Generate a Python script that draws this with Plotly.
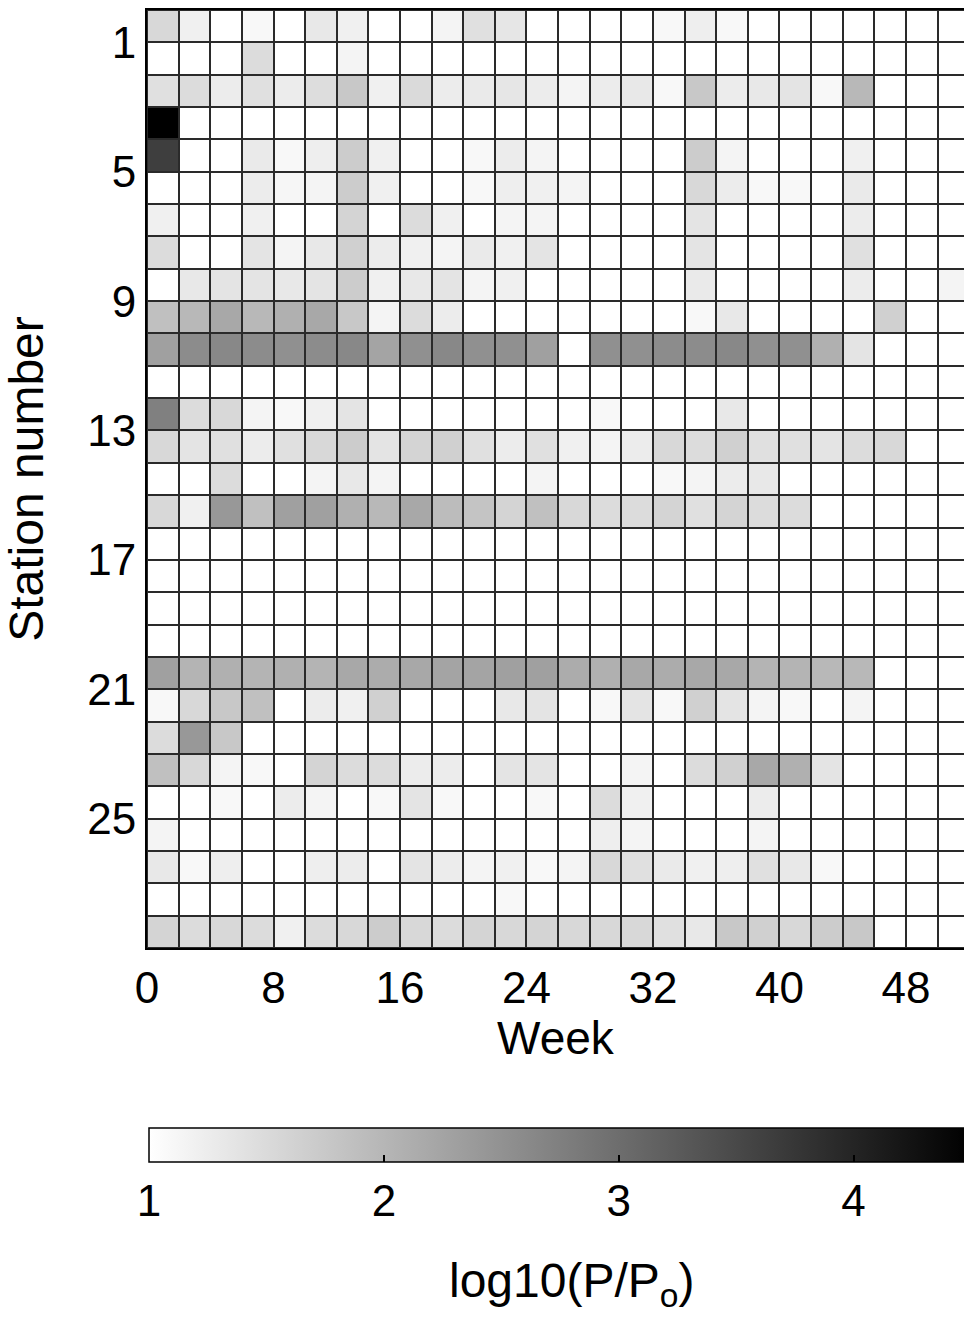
import plotly.graph_objects as go

# Week bin edges (each cell spans two weeks)
week_edges = [0, 2, 4, 6, 8, 10, 12, 14, 16, 18, 20, 22, 24, 26, 28, 30, 32, 34, 36,
              38, 40, 42, 44, 46, 48, 50, 52]
# Station row edges (station k occupies [k-1, k])
station_edges = [0, 1, 2, 3, 4, 5, 6, 7, 8, 9, 10, 11, 12, 13, 14, 15, 16, 17, 18, 19,
                 20, 21, 22, 23, 24, 25, 26, 27, 28, 29]

x_ticks = [0, 8, 16, 24, 32, 40, 48]
y_ticks = [1, 5, 9, 13, 17, 21, 25]
cbar_ticks = [1, 2, 3, 4]

# log10(P/Po) per station (rows) and two-week bin (columns)
s01 = [1.54, 1.21, 1.0, 1.10, 1.0, 1.32, 1.21, 1.0, 1.0, 1.15, 1.43, 1.35, 1.0, 1.0, 1.0, 1.0, 1.10, 1.23, 1.10, 1.0, 1.0, 1.0, 1.0, 1.0, 1.0, 1.0]
s02 = [1.0, 1.0, 1.0, 1.48, 1.0, 1.0, 1.15, 1.0, 1.0, 1.0, 1.0, 1.0, 1.0, 1.0, 1.0, 1.0, 1.0, 1.0, 1.0, 1.0, 1.0, 1.0, 1.0, 1.0, 1.0, 1.0]
s03 = [1.43, 1.48, 1.26, 1.43, 1.26, 1.46, 1.75, 1.21, 1.51, 1.26, 1.29, 1.35, 1.26, 1.15, 1.26, 1.32, 1.10, 1.75, 1.26, 1.32, 1.37, 1.10, 1.97, 1.0, 1.0, 1.0]
s04 = [4.5, 1.0, 1.0, 1.0, 1.0, 1.0, 1.0, 1.0, 1.0, 1.0, 1.0, 1.0, 1.0, 1.0, 1.0, 1.0, 1.0, 1.0, 1.0, 1.0, 1.0, 1.0, 1.0, 1.0, 1.0, 1.0]
s05 = [3.65, 1.0, 1.0, 1.29, 1.10, 1.23, 1.70, 1.21, 1.0, 1.0, 1.10, 1.26, 1.15, 1.0, 1.0, 1.0, 1.0, 1.70, 1.15, 1.0, 1.0, 1.0, 1.21, 1.0, 1.0, 1.0]
s06 = [1.0, 1.0, 1.0, 1.26, 1.12, 1.15, 1.70, 1.21, 1.0, 1.0, 1.10, 1.23, 1.21, 1.15, 1.0, 1.0, 1.0, 1.54, 1.26, 1.10, 1.10, 1.0, 1.29, 1.0, 1.0, 1.0]
s07 = [1.21, 1.0, 1.0, 1.21, 1.0, 1.0, 1.59, 1.0, 1.48, 1.21, 1.0, 1.15, 1.15, 1.0, 1.0, 1.0, 1.0, 1.37, 1.0, 1.0, 1.0, 1.0, 1.26, 1.0, 1.0, 1.0]
s08 = [1.48, 1.0, 1.0, 1.37, 1.15, 1.32, 1.65, 1.26, 1.21, 1.15, 1.29, 1.21, 1.37, 1.0, 1.0, 1.0, 1.0, 1.37, 1.0, 1.0, 1.0, 1.0, 1.43, 1.0, 1.0, 1.0]
s09 = [1.0, 1.32, 1.37, 1.37, 1.32, 1.37, 1.70, 1.21, 1.32, 1.37, 1.15, 1.21, 1.0, 1.0, 1.0, 1.0, 1.0, 1.29, 1.0, 1.0, 1.0, 1.0, 1.26, 1.0, 1.0, 1.15]
s10 = [1.86, 1.97, 2.19, 1.97, 2.08, 2.19, 1.75, 1.15, 1.48, 1.26, 1.0, 1.0, 1.0, 1.0, 1.0, 1.0, 1.0, 1.10, 1.32, 1.0, 1.0, 1.0, 1.0, 1.65, 1.0, 1.0]
s11 = [2.30, 2.58, 2.63, 2.58, 2.52, 2.58, 2.63, 2.25, 2.52, 2.63, 2.52, 2.52, 2.30, 1.0, 2.52, 2.52, 2.58, 2.58, 2.63, 2.52, 2.52, 2.08, 1.37, 1.0, 1.0, 1.0]
s12 = [1.0, 1.0, 1.0, 1.0, 1.0, 1.0, 1.0, 1.0, 1.0, 1.0, 1.0, 1.0, 1.0, 1.0, 1.0, 1.0, 1.0, 1.0, 1.0, 1.0, 1.0, 1.0, 1.0, 1.0, 1.0, 1.0]
s13 = [2.74, 1.48, 1.54, 1.15, 1.10, 1.21, 1.37, 1.0, 1.0, 1.0, 1.0, 1.0, 1.0, 1.0, 1.10, 1.0, 1.0, 1.0, 1.32, 1.0, 1.0, 1.0, 1.0, 1.0, 1.0, 1.0]
s14 = [1.54, 1.37, 1.43, 1.26, 1.43, 1.54, 1.70, 1.37, 1.59, 1.65, 1.43, 1.26, 1.43, 1.21, 1.15, 1.26, 1.54, 1.48, 1.65, 1.43, 1.43, 1.37, 1.48, 1.54, 1.0, 1.0]
s15 = [1.0, 1.0, 1.48, 1.0, 1.0, 1.15, 1.32, 1.15, 1.0, 1.0, 1.0, 1.0, 1.15, 1.0, 1.0, 1.0, 1.10, 1.15, 1.26, 1.32, 1.0, 1.0, 1.0, 1.0, 1.0, 1.0]
s16 = [1.54, 1.21, 2.41, 1.86, 2.30, 2.30, 2.08, 1.97, 2.19, 1.92, 1.81, 1.59, 1.86, 1.54, 1.48, 1.48, 1.59, 1.43, 1.59, 1.48, 1.48, 1.0, 1.0, 1.0, 1.0, 1.0]
s17 = [1.0, 1.0, 1.0, 1.0, 1.0, 1.0, 1.0, 1.0, 1.0, 1.0, 1.0, 1.0, 1.0, 1.0, 1.0, 1.0, 1.0, 1.0, 1.0, 1.0, 1.0, 1.0, 1.0, 1.0, 1.0, 1.0]
s18 = [1.0, 1.0, 1.0, 1.0, 1.0, 1.0, 1.0, 1.0, 1.0, 1.0, 1.0, 1.0, 1.0, 1.0, 1.0, 1.0, 1.0, 1.0, 1.0, 1.0, 1.0, 1.0, 1.0, 1.0, 1.0, 1.0]
s19 = [1.0, 1.0, 1.0, 1.0, 1.0, 1.0, 1.0, 1.0, 1.0, 1.0, 1.0, 1.0, 1.0, 1.0, 1.0, 1.0, 1.0, 1.0, 1.0, 1.0, 1.0, 1.0, 1.0, 1.0, 1.0, 1.0]
s20 = [1.0, 1.0, 1.0, 1.0, 1.0, 1.0, 1.0, 1.0, 1.0, 1.0, 1.0, 1.0, 1.0, 1.0, 1.0, 1.0, 1.0, 1.0, 1.0, 1.0, 1.0, 1.0, 1.0, 1.0, 1.0, 1.0]
s21 = [2.30, 2.03, 2.08, 2.03, 2.08, 2.03, 2.19, 2.14, 2.19, 2.25, 2.25, 2.30, 2.30, 2.14, 2.08, 2.19, 2.14, 2.19, 2.19, 2.03, 2.03, 1.97, 1.97, 1.0, 1.0, 1.0]
s22 = [1.10, 1.54, 1.75, 1.86, 1.0, 1.26, 1.21, 1.65, 1.0, 1.0, 1.0, 1.32, 1.37, 1.0, 1.10, 1.37, 1.10, 1.65, 1.37, 1.15, 1.10, 1.0, 1.15, 1.0, 1.0, 1.0]
s23 = [1.48, 2.41, 1.75, 1.0, 1.0, 1.0, 1.0, 1.0, 1.0, 1.0, 1.0, 1.0, 1.0, 1.0, 1.0, 1.0, 1.0, 1.0, 1.0, 1.0, 1.0, 1.0, 1.0, 1.0, 1.0, 1.0]
s24 = [1.86, 1.54, 1.15, 1.10, 1.0, 1.59, 1.48, 1.48, 1.26, 1.26, 1.0, 1.37, 1.37, 1.0, 1.0, 1.15, 1.0, 1.48, 1.65, 2.19, 2.08, 1.37, 1.0, 1.0, 1.0, 1.0]
s25 = [1.0, 1.0, 1.10, 1.0, 1.26, 1.15, 1.0, 1.10, 1.37, 1.10, 1.0, 1.0, 1.10, 1.0, 1.48, 1.21, 1.0, 1.0, 1.0, 1.26, 1.0, 1.0, 1.0, 1.0, 1.0, 1.0]
s26 = [1.15, 1.0, 1.0, 1.0, 1.0, 1.0, 1.0, 1.0, 1.0, 1.0, 1.0, 1.0, 1.0, 1.0, 1.23, 1.15, 1.0, 1.0, 1.0, 1.15, 1.0, 1.0, 1.0, 1.0, 1.0, 1.0]
s27 = [1.32, 1.10, 1.23, 1.0, 1.0, 1.23, 1.26, 1.0, 1.37, 1.26, 1.15, 1.21, 1.10, 1.15, 1.54, 1.43, 1.29, 1.21, 1.23, 1.43, 1.32, 1.10, 1.0, 1.0, 1.0, 1.0]
s28 = [1.0, 1.0, 1.0, 1.0, 1.0, 1.0, 1.0, 1.0, 1.0, 1.0, 1.0, 1.10, 1.0, 1.0, 1.0, 1.0, 1.0, 1.0, 1.0, 1.0, 1.0, 1.0, 1.0, 1.0, 1.0, 1.0]
s29 = [1.59, 1.48, 1.54, 1.48, 1.21, 1.48, 1.54, 1.70, 1.54, 1.48, 1.59, 1.54, 1.59, 1.54, 1.54, 1.54, 1.43, 1.32, 1.75, 1.65, 1.54, 1.70, 1.75, 1.0, 1.0, 1.0]

z = [s01, s02, s03, s04, s05, s06, s07, s08, s09, s10, s11, s12, s13, s14, s15,
     s16, s17, s18, s19, s20, s21, s22, s23, s24, s25, s26, s27, s28, s29]

FONT = "Liberation Sans, Arial, sans-serif"

W, H = 964, 1321
ML, MR, MT, MB = 147, 0, 10, 373
plot_w = W - ML - MR
plot_h = H - MT - MB


def py(pix):
    """pixel row -> paper y"""
    return (H - MB - pix) / plot_h


def px(pix):
    return (pix - ML) / plot_w


fig = go.Figure()
fig.add_trace(go.Heatmap(
    z=z, x=week_edges, y=station_edges,
    zmin=1, zmax=4.5,
    colorscale=[[0, "#ffffff"], [1, "#000000"]],
    xgap=2, ygap=2,
    hoverinfo="skip",
    colorbar=dict(
        orientation="h",
        x=px(149), xanchor="left", xpad=0,
        y=py(1128), yanchor="top", ypad=0,
        len=822, lenmode="pixels",
        thickness=34, thicknessmode="pixels",
        outlinewidth=1.5, outlinecolor="#000000",
        ticks="inside", ticklen=7, tickwidth=1.5, tickcolor="#000000",
        tickvals=cbar_ticks,
        tickfont=dict(family=FONT, size=44, color="#000000"),
    ),
))

fig.add_annotation(
    text="log10(P/P<sub>o</sub>)", x=px(571), y=py(1252),
    xref="paper", yref="paper", xanchor="center", yanchor="top",
    showarrow=False, font=dict(family=FONT, size=48, color="#000000"),
)

fig.update_layout(
    width=W, height=H,
    margin=dict(l=ML, r=MR, t=MT, b=MB, autoexpand=False),
    paper_bgcolor="#ffffff",
    plot_bgcolor="#2a2a2a",
    font=dict(family=FONT, size=44, color="#000000"),
    xaxis=dict(
        range=[0, 51.67], tickvals=x_ticks,
        showgrid=False, zeroline=False,
        showline=True, linecolor="#000000", linewidth=2, mirror=True,
        ticks="", tickfont=dict(family=FONT, size=44, color="#000000"),
        title=dict(text="Week", font=dict(family=FONT, size=46, color="#000000"), standoff=4),
    ),
    yaxis=dict(
        range=[29, 0], tickvals=y_ticks,
        showgrid=False, zeroline=False,
        showline=True, linecolor="#000000", linewidth=2, mirror=False,
        ticks="", tickfont=dict(family=FONT, size=44, color="#000000"),
        title=dict(text="Station number", font=dict(family=FONT, size=48, color="#000000"), standoff=30),
    ),
)

fig.write_html("out.html")
